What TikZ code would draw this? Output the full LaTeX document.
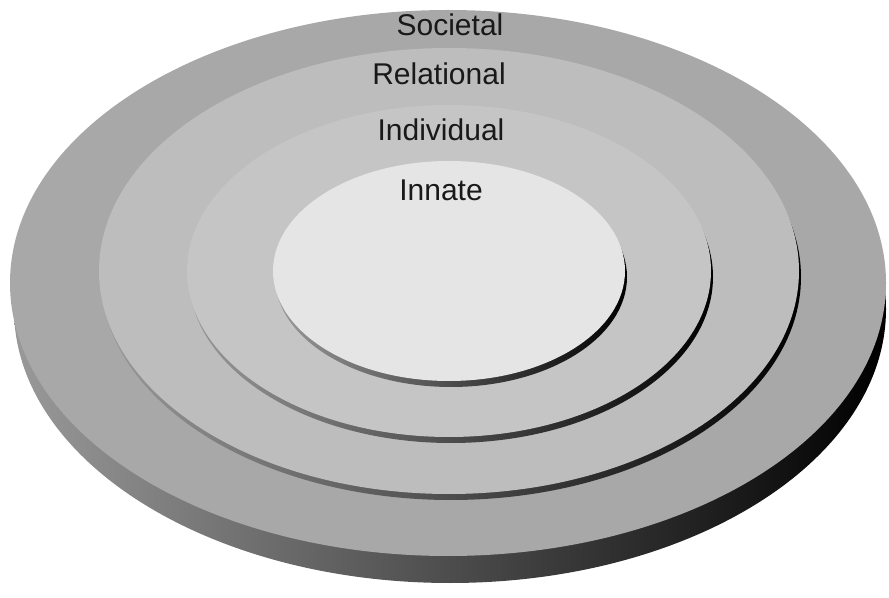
\documentclass[tikz,border=0pt]{standalone}
\usepackage{fontspec}
\setmainfont{Liberation Sans}
\usetikzlibrary{positioning}
\definecolor{socgray}{HTML}{A8A8A8}
\definecolor{relgray}{HTML}{BDBDBD}
\definecolor{indgray}{HTML}{C5C5C5}
\definecolor{inngray}{HTML}{E5E5E5}

\begin{document}
\begin{tikzpicture}[x=0.75pt,y=-0.75pt,
    rim/.style={left color=gray!80,middle color=black!70,right color=black},
    lip/.style={left color=gray!80,middle color=white,right color=black},
    lbl/.style={font=\fontsize{22.5}{27}\selectfont,text=black!90,inner sep=0pt}]
    \useasboundingbox (0,0) rectangle (889,598);

    \shade[rim] (450,309) ellipse [x radius=436,y radius=274];
    \fill[socgray] (448,283) ellipse [x radius=438,y radius=273];

    \shade[lip] (451,277) ellipse [x radius=350,y radius=223];
    \fill[relgray] (449,271) ellipse [x radius=350,y radius=223];
    \shade[lip] (451,277) ellipse [x radius=262,y radius=166];
    \fill[indgray] (449,271) ellipse [x radius=262,y radius=166];
    \shade[lip] (451,277) ellipse [x radius=176,y radius=110];
    \fill[inngray] (449,271) ellipse [x radius=176,y radius=110];

    \node[lbl] (societal) at (450,25) {Societal};
    \node[lbl] (relational) at (439,74) {Relational};
    \node[lbl] (individual) at (441,130) {Individual};
    \node[lbl] (innate) at (441,190) {Innate};
\end{tikzpicture}
\end{document}
